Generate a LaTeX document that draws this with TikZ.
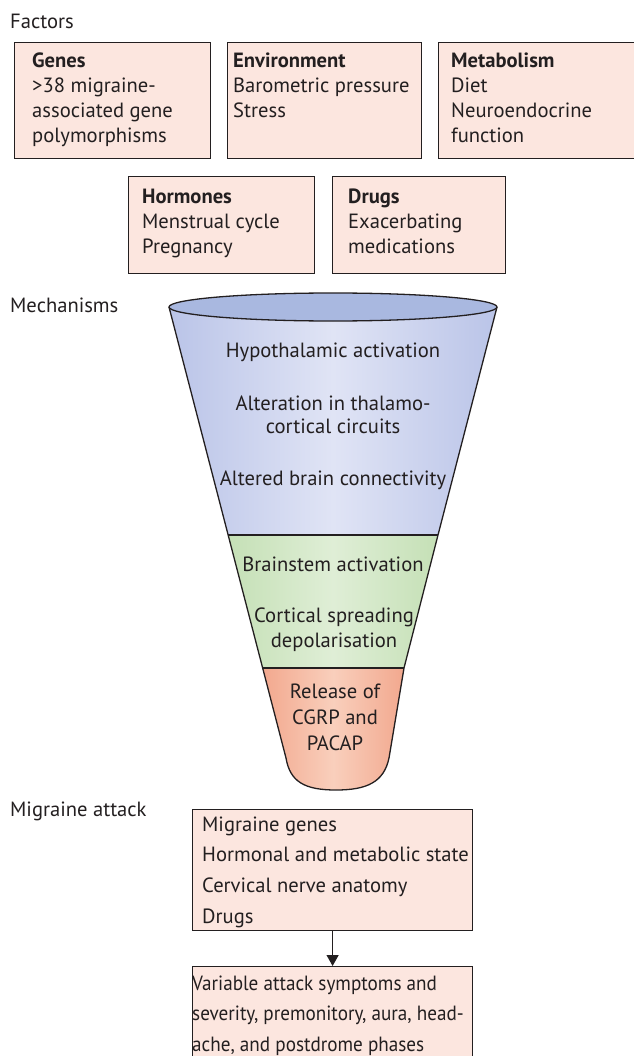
\documentclass[tikz,border=0pt]{standalone}
\usepackage{fontspec}
\setmainfont{PT Sans}
\newfontfamily\tightfont[FakeStretch=0.93]{PT Sans}
\usetikzlibrary{arrows.meta}
\newcommand{\topstrut}{\rule{0pt}{15pt}}
\definecolor{boxpink}{HTML}{FCE6DF}
\definecolor{ink}{HTML}{231F20}
\definecolor{blueedge}{HTML}{BAC4E8}
\definecolor{bluemid}{HTML}{E0E4F5}
\definecolor{bluetop}{HTML}{A9B8E0}
\definecolor{greenedge}{HTML}{C5E0B6}
\definecolor{greenmid}{HTML}{DFEED6}
\definecolor{orangeedge}{HTML}{F2A88E}
\definecolor{orangemid}{HTML}{F9CFBC}
\begin{document}
\begin{tikzpicture}[x=1pt,y=-1pt,
  box/.style={draw=ink, line width=1.2pt, fill=boxpink, inner sep=0pt, anchor=north west},
  txt/.style={anchor=north west, inner sep=0pt, align=left, text=ink, font=\fontsize{20.6}{25}\selectfont},
  ltxt/.style={anchor=north west, inner sep=0pt, align=left, text=ink, font=\fontsize{20.6}{30.7}\selectfont},
  lbl/.style={anchor=north west, inner sep=0pt, text=ink, font=\fontsize{20.6}{25}\selectfont},
  ftxt/.style={anchor=north, inner sep=0pt, align=center, text=ink, font=\fontsize{20.6}{25}\selectfont},
  outline/.style={draw=ink, line width=1.3pt, line join=round}]
\useasboundingbox (0,0) rectangle (633,1056);

% section labels
\node[lbl] (lf) at (10,13) {\topstrut Factors};
\node[lbl] (lm) at (10,297) {\topstrut Mechanisms};
\node[lbl] (la) at (10,801) {\topstrut Migraine attack};

% factor boxes
\node[box, minimum width=196pt, minimum height=116pt] (genes) at (14,42) {};
\node[txt] (genesT) at (32,52) {\topstrut\textbf{Genes}\\>38 migraine-\\associated gene\\polymorphisms};
\node[box, minimum width=194pt, minimum height=116pt] (env) at (227,42) {};
\node[txt] (envT) at (233,52) {\topstrut\textbf{Environment}\\Barometric pressure\\Stress};
\node[box, minimum width=210pt, minimum height=116pt] (met) at (438,42) {};
\node[txt] (metT) at (451,52) {\topstrut\textbf{Metabolism}\\Diet\\Neuroendocrine\\function};
\node[box, minimum width=186pt, minimum height=97pt] (hor) at (128,176) {};
\node[txt] (horT) at (142,188) {\topstrut\textbf{Hormones}\\Menstrual cycle\\Pregnancy};
\node[box, minimum width=173pt, minimum height=97pt] (drg) at (332,176) {};
\node[txt] (drgT) at (348,188) {\topstrut\textbf{Drugs}\\Exacerbating\\medications};

% funnel
\shade[left color=blueedge, right color=blueedge, middle color=bluemid]
  (169,307) -- (228,535) -- (438,535) -- (497,307) -- cycle;
\shade[left color=greenedge, right color=greenedge, middle color=greenmid]
  (228,535) -- (262.5,668) -- (404,668) -- (438,535) -- cycle;
\shade[left color=orangeedge, right color=orangeedge, middle color=orangemid]
  (262.5,668) -- (286,758) .. controls (290,782) and (305,790) .. (336,790)
  .. controls (367,790) and (384,782) .. (389,758) -- (404,668) -- cycle;
\draw[outline] (169,307) -- (286,758) .. controls (290,782) and (305,790) .. (336,790)
  .. controls (367,790) and (384,782) .. (389,758) -- (404,668) -- (438,535) -- (497,307);
\draw[outline] (228,535) -- (438,535);
\draw[outline] (262.5,668) -- (404,668);
\filldraw[outline, fill=bluetop] (333,307) ellipse [x radius=164pt, y radius=14pt];

\node[ftxt] (m1) at (333,342) {\topstrut Hypothalamic activation};
\node[ftxt, font=\fontsize{20.6}{23.5}\selectfont] (m2) at (333,395) {\topstrut Alteration in thalamo-\\cortical circuits};
\node[ftxt] (m3) at (333,470) {\topstrut Altered brain connectivity};
\node[ftxt] (m4) at (333,556) {\topstrut Brainstem activation};
\node[ftxt] (m5) at (334,607) {\topstrut Cortical spreading\\depolarisation};
\node[ftxt, font=\fontsize{20.6}{26}\selectfont] (m6) at (335,683) {\topstrut Release of\\CGRP and\\PACAP};

% migraine attack
\node[box, minimum width=280pt, minimum height=121pt] (att) at (192,809) {};
\node[ltxt] (attT) at (202,816) {\topstrut Migraine genes\\Hormonal and metabolic state\\Cervical nerve anatomy\\Drugs};
\node[box, minimum width=280pt, minimum height=100pt] (sym) at (192,966) {};
\node[ltxt, font=\tightfont\fontsize{20.6}{30.5}\selectfont] (symT) at (192,975) {\topstrut Variable attack symptoms and\\severity, premonitory, aura, head-\\ache, and postdrome phases};
\draw[draw=ink, line width=1.2pt, -{Triangle[width=12pt,length=11pt]}] (att.south) -- (sym.north);
\end{tikzpicture}
\end{document}
